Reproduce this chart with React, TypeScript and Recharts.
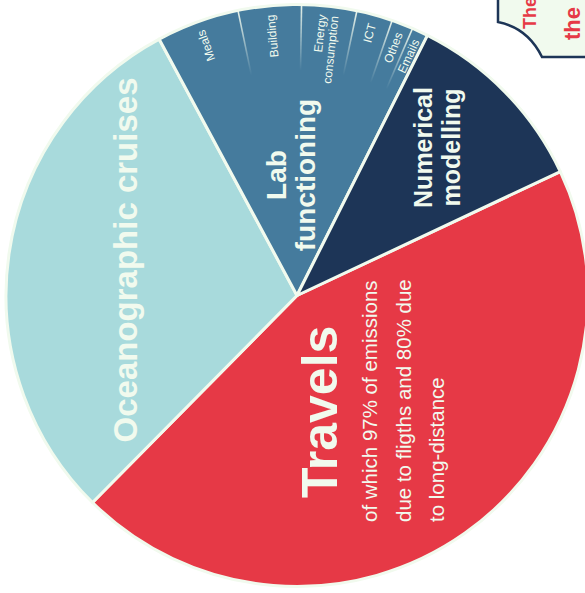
import React from 'react';
import { PieChart, Pie, Cell } from 'recharts';

// main breakdown (share of total emissions, %)
const categories = ['Travels', 'Oceanographic cruises', 'Lab functioning', 'Numerical modelling'];
const labParts = ['Meals', 'Building', 'Energy consumption', 'ICT', 'Othes', 'Emails'];
const labShares = [4.6, 3.5, 3.05, 2.0, 1.2, 0.9];
const shares = [44.4, 29.75, labShares.reduce((a, b) => a + b, 0), 10.6];
const travelsNote = ['of which 97% of emissions', 'due to fligths and 80% due', 'to long-distance'];
const calloutLines = ['The', 'the'];

const COLORS = ['#e63946', '#a8dadc', '#457b9d', '#1d3557'];
const LIGHT = '#f1faee';
const FONT = '"Liberation Sans", Arial, Helvetica, sans-serif';
const RAD = Math.PI / 180;

const mainData = categories.map((name, i) => ({ name, value: shares[i] }));
const detailData = [
  mainData[0],
  mainData[1],
  ...labParts.map((name, i) => ({ name, value: labShares[i] })),
  mainData[3],
];

// label placement relative to the pie centre (text runs bottom -> top)
const labelLayout = [
  { dx: 40, dy: 202.5, size: 50, gap: 0, anchor: 'start', lines: ['Travels'] },
  { dx: -160, dy: -35.5, size: 33, gap: 0, anchor: 'middle', lines: ['Oceanographic cruises'] },
  { dx: -11, dy: -120.5, size: 28, gap: 29, anchor: 'middle', lines: ['Lab', 'functioning'] },
  { dx: 135, dy: -148, size: 25, gap: 28, anchor: 'middle', lines: ['Numerical', 'modelling'] },
];

const polar = (cx: number, cy: number, r: number, angle: number) => ({
  x: cx + r * Math.cos(-angle * RAD),
  y: cy + r * Math.sin(-angle * RAD),
});

const renderMainLabel = (props: any) => {
  const { cx, cy, index } = props;
  const l = labelLayout[index];
  return (
    <g>
      {l.lines.map((line, i) => (
        <text
          key={line}
          transform={`translate(${cx + l.dx + i * l.gap},${cy + l.dy}) rotate(-90)`}
          textAnchor={l.anchor}
          fill={LIGHT}
          fontSize={l.size}
          fontWeight={700}
          fontFamily={FONT}
        >
          {line}
        </text>
      ))}
      {index === 0 &&
        travelsNote.map((line, i) => (
          <text
            key={line}
            transform={`translate(${cx + 80 + i * 33.5},${cy + 226.5}) rotate(-90)`}
            textAnchor="start"
            fill={LIGHT}
            fontSize={20.5}
            fontFamily={FONT}
          >
            {line}
          </text>
        ))}
    </g>
  );
};

const renderLabPart = (props: any) => {
  const { cx, cy, outerRadius, startAngle, midAngle, index } = props;
  const k = index - 2;
  if (k < 0 || k >= labParts.length) return <g />;
  const p = polar(cx, cy, outerRadius - 9, midAngle);
  const a = polar(cx, cy, outerRadius, startAngle);
  const b = polar(cx, cy, outerRadius - 66, startAngle);
  const words = labParts[k].split(' ');
  return (
    <g>
      {k > 0 && (
        <>
          <defs>
            <linearGradient id={`fade-${k}`} gradientUnits="userSpaceOnUse" x1={a.x} y1={a.y} x2={b.x} y2={b.y}>
              <stop offset="0%" stopColor={LIGHT} stopOpacity={0.95} />
              <stop offset="100%" stopColor={LIGHT} stopOpacity={0} />
            </linearGradient>
          </defs>
          <line x1={a.x} y1={a.y} x2={b.x} y2={b.y} stroke={`url(#fade-${k})`} strokeWidth={1.6} />
        </>
      )}
      <g transform={`translate(${p.x},${p.y}) rotate(${-midAngle})`}>
        {words.map((w, i) => (
          <text
            key={w}
            x={0}
            y={(i - (words.length - 1) / 2) * 12.5}
            dominantBaseline="central"
            textAnchor="end"
            fill={LIGHT}
            fontSize={12}
            fontFamily={FONT}
          >
            {w}
          </text>
        ))}
      </g>
    </g>
  );
};

export default function App() {
  return (
    <div style={{ position: 'absolute', left: 0, top: 0, width: 585, height: 593, background: '#fff', overflow: 'hidden' }}>
      <PieChart width={585} height={593} margin={{ top: 0, right: 0, bottom: 0, left: 0 }}>
        <Pie
          data={mainData}
          dataKey="value"
          nameKey="name"
          cx={297}
          cy={295.5}
          innerRadius={0}
          outerRadius={291}
          startAngle={25.2}
          endAngle={-334.8}
          stroke={LIGHT}
          strokeWidth={3}
          strokeLinejoin="round"
          label={renderMainLabel}
          labelLine={false}
          isAnimationActive={false}
        >
          {mainData.map((d, i) => (
            <Cell key={d.name} fill={COLORS[i]} />
          ))}
        </Pie>
        <Pie
          data={detailData}
          dataKey="value"
          nameKey="name"
          cx={297}
          cy={295.5}
          innerRadius={0}
          outerRadius={291}
          startAngle={25.2}
          endAngle={-334.8}
          fill="none"
          stroke="none"
          label={renderLabPart}
          labelLine={false}
          isAnimationActive={false}
        />
      </PieChart>
      <svg width={585} height={593} style={{ position: 'absolute', left: 0, top: 0, pointerEvents: 'none' }}>
        <path d="M498,-4 L498,22 Q528,28 542,57 L590,57 L590,-4 Z" fill={LIGHT} stroke="#1d3557" strokeWidth={2.5} />
        {calloutLines.map((line, i) => (
          <text
            key={i}
            transform={`translate(${536 + i * 44},${29 + i * 11}) rotate(-90)`}
            textAnchor="start"
            fill="#e63946"
            fontSize={i === 0 ? 18 : 22}
            fontWeight={700}
            fontFamily={FONT}
          >
            {line}
          </text>
        ))}
      </svg>
    </div>
  );
}
